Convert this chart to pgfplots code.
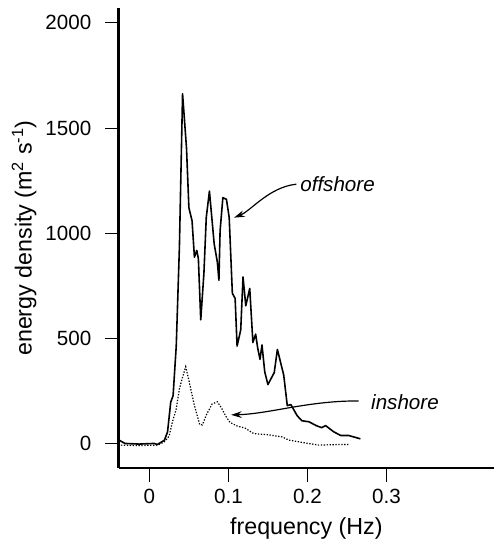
\documentclass[border=0pt]{standalone}
\usepackage{fontspec}
\setmainfont{Liberation Sans}
\usepackage{pgfplots}
\usepackage{pgfplotstable}
\pgfplotsset{compat=1.18}
\usetikzlibrary{arrows.meta}

% energy spectra
\pgfplotstableread{
f      E
-0.038 15
-0.031 0
-0.013 -3
0.006  0
0.010  -5
0.019  15
0.023  55
0.027  196
0.030  227
0.034  463
0.038  933
0.042  1663
0.047  1404
0.050  1121
0.054  1059
0.057  886
0.060  918
0.062  879
0.065  588
0.069  808
0.072  1075
0.076  1200
0.082  949
0.086  863
0.088  776
0.0895 1012
0.093  1169
0.0975 1161
0.101  1075
0.105  714
0.1085 690
0.111  463
0.1156 540
0.1185 792
0.122  655
0.127  737
0.131  480
0.1345 520
0.137  455
0.140  400
0.1425 468
0.146  340
0.150  280
0.158  337
0.162  447
0.170  325
0.1745 180
0.179  185
0.187  132
0.193  108
0.202  103
0.211  85
0.218  75
0.223  85
0.233  56
0.242  38
0.252  38
0.267  22
}\offshore

\pgfplotstableread{
f      E
-0.036 -8
-0.013 -10
0.0105 -8
0.019  8
0.025  35
0.029  100
0.034  165
0.038  260
0.0416 310
0.046  365
0.050  300
0.057  180
0.0637 90
0.067  88
0.072  135
0.0795 188
0.086  198
0.091  170
0.097  128
0.102  100
0.111  83
0.121  73
0.132  47
0.149  42
0.168  31
0.1765 16
0.193  5
0.214  -8
0.240  -5
0.252  -5
}\inshore

\begin{document}
\begin{tikzpicture}
\begin{axis}[
  scale only axis,
  width=282.75pt, height=346.5pt,
  xmin=-0.039, xmax=0.4363,
  ymin=-118, ymax=2071,
  axis x line=bottom, axis y line=left,
  axis line style={-, line width=1.8pt},
  tick align=outside,
  major tick length=10pt,
  tick style={line width=0.8pt, black},
  xtick={0,0.1,0.2,0.3},
  ytick={0,500,1000,1500,2000},
  scaled ticks=false,
  /pgf/number format/1000 sep={},
  /pgf/number format/assume math mode=true,
  every tick label/.append style={font=\fontsize{15.5}{18}\selectfont},
  yticklabel style={xshift=-7pt},
  xticklabel style={yshift=-2pt},
  label style={font=\fontsize{17.5}{21}\selectfont},
  xlabel style={yshift=-4pt},
  xlabel={frequency (Hz)},
  ylabel={energy density (m\textsuperscript{2} s\textsuperscript{-1})},
  clip=false,
]
\addplot[black, line width=1.2pt, line join=round] table[x=f, y=E] {\offshore};
\addplot[black, line width=0.9pt, dash pattern=on 1pt off 1.2pt] table[x=f, y=E] {\inshore};

\node[anchor=west, font=\fontsize{15.5}{18}\selectfont\itshape, inner sep=1pt] at (axis cs:0.189,1233) {offshore};
\node[anchor=west, font=\fontsize{15.5}{18}\selectfont\itshape, inner sep=1pt] at (axis cs:0.2787,198) {inshore};

\draw[line width=0.9pt, -{Stealth[length=8pt, width=5pt]}]
  (axis cs:0.186,1233) .. controls (axis cs:0.1513,1219) and (axis cs:0.1286,1106) .. (axis cs:0.1072,1074);
\draw[line width=0.9pt, -{Stealth[length=8pt, width=5pt]}]
  (axis cs:0.2648,202) .. controls (axis cs:0.2018,204) and (axis cs:0.1513,140) .. (axis cs:0.1034,136);
\end{axis}
\path (current axis.south west) ++(-89.25pt,-55.5pt);
\path (current axis.north east) ++(0pt,6pt);
\end{tikzpicture}
\end{document}
